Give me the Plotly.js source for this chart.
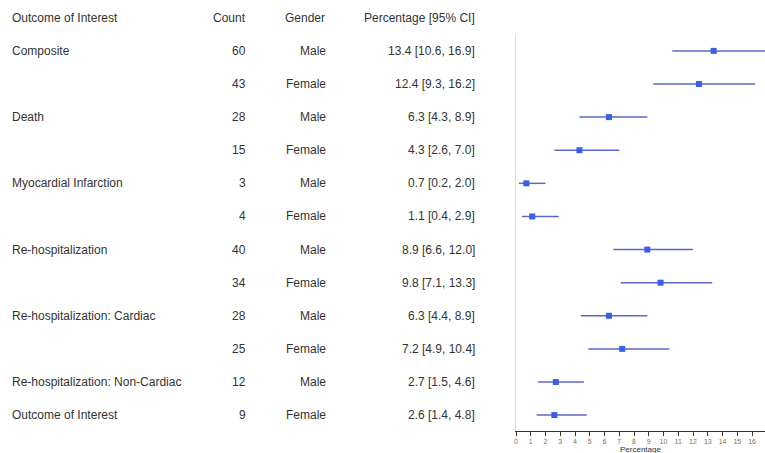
<!DOCTYPE html>
<html>
<head>
<meta charset="utf-8">
<script src="https://cdn.plot.ly/plotly-3.0.1.min.js"></script>
<style>html,body{margin:0;padding:0;background:#fff;}#chart{width:765px;height:453px;}</style>
</head>
<body>
<div id="chart"></div>
<script>
const outcomes = ["Composite", "", "Death", "", "Myocardial Infarction", "", "Re-hospitalization", "", "Re-hospitalization: Cardiac", "", "Re-hospitalization: Non-Cardiac", "Outcome of Interest"];
const counts = [60, 43, 28, 15, 3, 4, 40, 34, 28, 25, 12, 9];
const genders = ["Male", "Female", "Male", "Female", "Male", "Female", "Male", "Female", "Male", "Female", "Male", "Female"];
const pct = [13.4, 12.4, 6.3, 4.3, 0.7, 1.1, 8.9, 9.8, 6.3, 7.2, 2.7, 2.6];
const lower = [10.6, 9.3, 4.3, 2.6, 0.2, 0.4, 6.6, 7.1, 4.4, 4.9, 1.5, 1.4];
const upper = [16.9, 16.2, 8.9, 7.0, 2.0, 2.9, 12.0, 13.3, 8.9, 10.4, 4.6, 4.8];
const headers = ["Outcome of Interest", "Count", "Gender", "Percentage [95% CI]"];
const xTicks = [0,1,2,3,4,5,6,7,8,9,10,11,12,13,14,15,16];
const xTitle = "Percentage";

const rows = pct.map((_, i) => i);
const fmt = v => v.toFixed(1);
const fam = "Liberation Sans, Arial, sans-serif";
const txtFont = {family: fam, size: 12, color: "#333"};

const trace = {
  type: "scatter",
  mode: "markers",
  x: pct,
  y: rows,
  marker: {symbol: "square", size: 6, color: "#3b5ee6"},
  error_x: {
    type: "data",
    symmetric: false,
    array: pct.map((p, i) => upper[i] - p),
    arrayminus: pct.map((p, i) => p - lower[i]),
    width: 0,
    thickness: 1.5,
    color: "#5b67c9"
  },
  hoverinfo: "skip",
  showlegend: false
};

const H = 396; // plot area height
const colX = [10/765, 248/765, 327/765, 477/765];
const colAnchor = ["left", "right", "right", "right"];
const ann = [];
const headerY = 1 + (35 - 18) / H;
headers.forEach((h, j) => {
  ann.push({xref: "paper", yref: "paper", x: colX[j], y: headerY, xanchor: colAnchor[j], yanchor: "middle", text: h, font: txtFont});
});
rows.forEach(i => {
  if (outcomes[i]) ann.push({xref: "paper", yref: "y", x: colX[0], y: i, xanchor: "left", text: outcomes[i]});
  ann.push({xref: "paper", yref: "y", x: colX[1], y: i, xanchor: "right", text: String(counts[i])});
  ann.push({xref: "paper", yref: "y", x: 328/765, y: i, xanchor: "right", text: genders[i]});
  ann.push({xref: "paper", yref: "y", x: colX[3], y: i, xanchor: "right", text: fmt(pct[i]) + " [" + fmt(lower[i]) + ", " + fmt(upper[i]) + "]"});
});
ann.forEach(a => { a.showarrow = false; a.yanchor = a.yanchor || "middle"; a.font = a.font || txtFont; });
ann.push({xref: "paper", yref: "paper", x: (516 + 765) / 2 / 765, y: -(443 - 431) / H, xanchor: "center", yanchor: "top",
  showarrow: false, text: xTitle, font: {family: fam, size: 8, color: "#333"}});

const layout = {
  width: 765, height: 453,
  margin: {l: 0, r: 0, t: 35, b: 22, pad: 0},
  paper_bgcolor: "#fff", plot_bgcolor: "#fff",
  xaxis: {
    domain: [516/765, 1],
    range: [0, 16.88],
    tickvals: xTicks,
    ticktext: xTicks.map(String),
    ticks: "outside", ticklen: 4, tickcolor: "#333", tickwidth: 1,
    showline: true, linecolor: "#333", linewidth: 1,
    showgrid: false, zeroline: false,
    tickfont: {family: fam, size: 7, color: "#8a6a50"},
    automargin: false,
    fixedrange: true
  },
  yaxis: {
    range: [11.48, -0.48],
    showticklabels: false, showgrid: false, zeroline: false,
    showline: true, linecolor: "#ddd", linewidth: 1,
    ticks: "",
    fixedrange: true
  },
  annotations: ann
};
Plotly.newPlot("chart", [trace], layout, {displayModeBar: false, staticPlot: true});
</script>
</body>
</html>
